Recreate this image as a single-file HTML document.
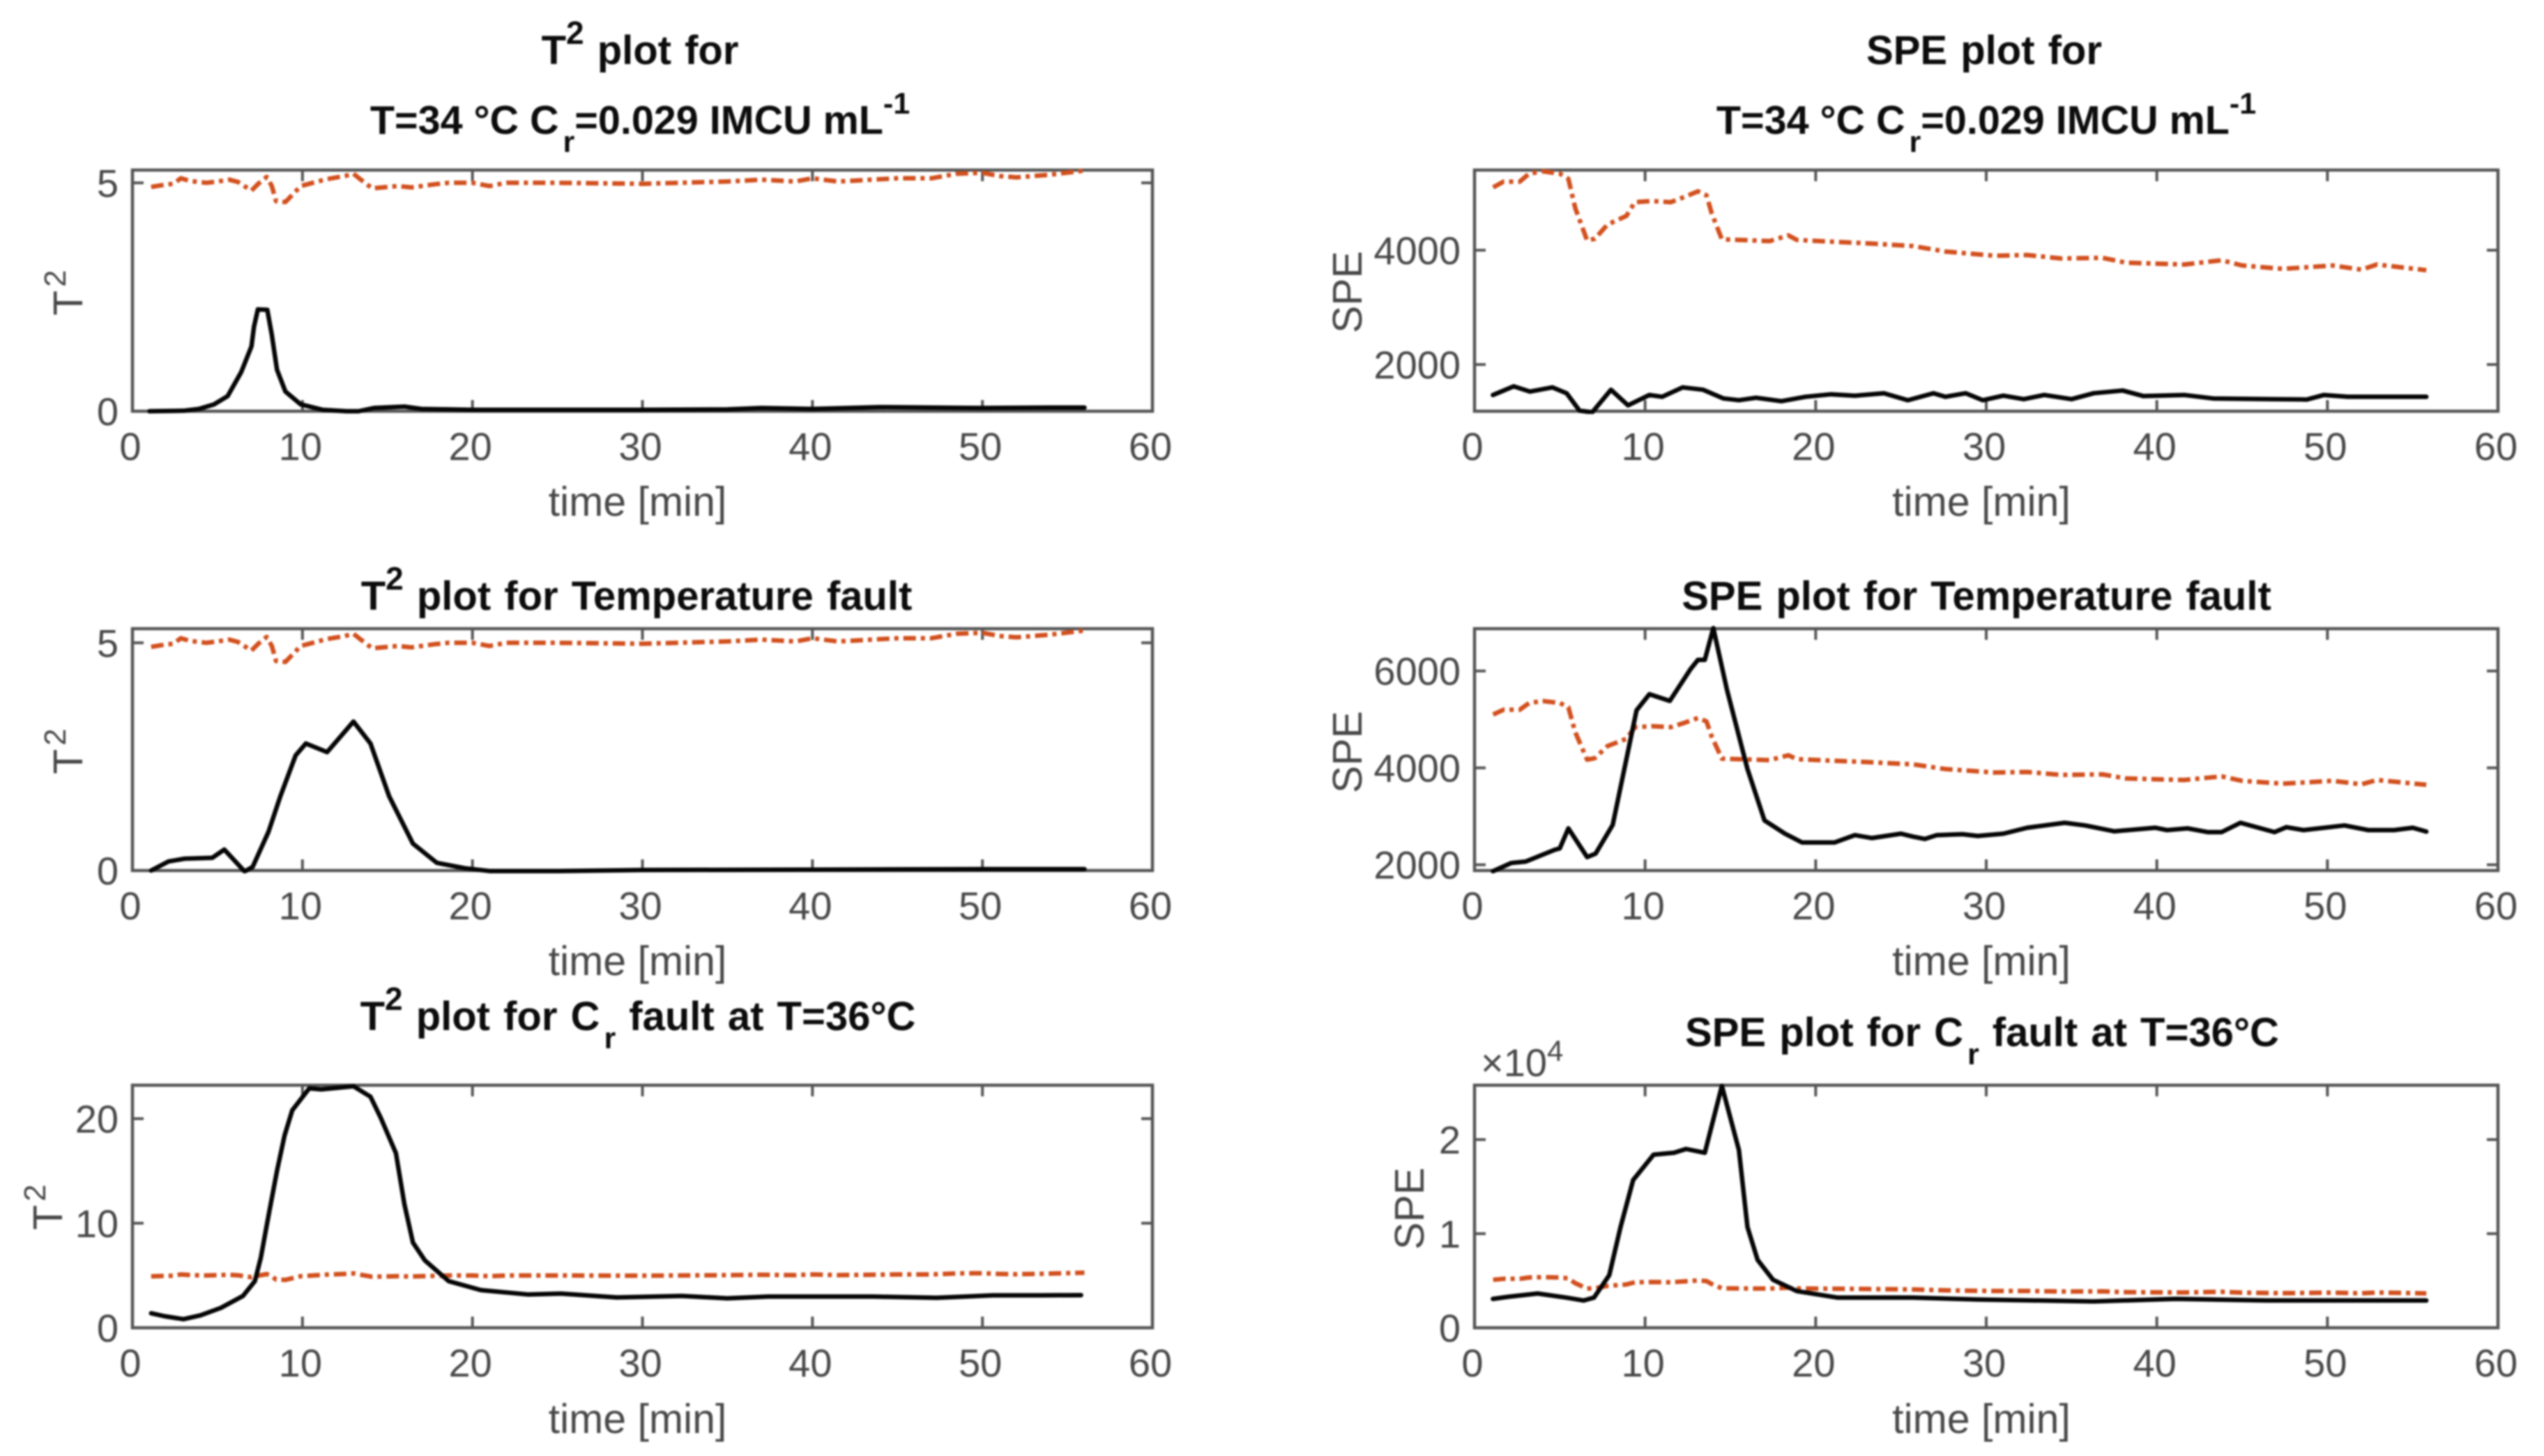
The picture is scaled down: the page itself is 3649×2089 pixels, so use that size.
<!DOCTYPE html>
<html lang="en">
<head>
<meta charset="utf-8">
<title>T2 and SPE fault plots</title>
<style>
html,body{margin:0;padding:0;background:#fff;width:3649px;height:2089px;overflow:hidden}
svg{display:block;filter:blur(1.2px)}
text{font-family:"Liberation Sans",Arial,sans-serif}
.title{font-weight:bold;font-size:58px;word-spacing:3px;fill:#0c0c0c;text-anchor:middle}
.title.compact{font-size:57.5px;word-spacing:0}
.label{font-size:59px;fill:#484848}
.tick{font-size:56px;fill:#484848}
</style>
</head>
<body>
<svg id="chart" xmlns="http://www.w3.org/2000/svg" width="3649" height="2089" viewBox="0 0 3649 2089">
  <rect x="0" y="0" width="3649" height="2089" fill="#fff"/>

  <text class="title" x="918" y="92">T<tspan font-size="46" dy="-29">2</tspan><tspan dy="29"> plot for</tspan></text>
  <text class="title compact" x="918" y="192">T=34 °C C<tspan font-size="43" dy="26" dx="6">r</tspan><tspan dy="-26">=0.029 IMCU mL</tspan><tspan font-size="43" dy="-29">-1</tspan></text>
  <text class="title" x="2846" y="92">SPE plot for</text>
  <text class="title compact" x="2849" y="192">T=34 °C C<tspan font-size="43" dy="26" dx="6">r</tspan><tspan dy="-26">=0.029 IMCU mL</tspan><tspan font-size="43" dy="-29">-1</tspan></text>

  <text class="title" x="913" y="875">T<tspan font-size="46" dy="-29">2</tspan><tspan dy="29"> plot for Temperature fault</tspan></text>
  <text class="title" x="2835" y="875">SPE plot for Temperature fault</text>

  <text class="title" x="915" y="1478">T<tspan font-size="46" dy="-29">2</tspan><tspan dy="29"> plot for C</tspan><tspan font-size="43" dy="26" dx="6">r</tspan><tspan dy="-26"> fault at T=36°C</tspan></text>
  <text class="title" x="2843" y="1501">SPE plot for C<tspan font-size="43" dy="26" dx="6">r</tspan><tspan dy="-26"> fault at T=36°C</tspan></text>

  <text class="label" transform="translate(118,420) rotate(-90)" text-anchor="middle">T<tspan font-size="44" dy="-24" dx="5">2</tspan></text>
  <text class="label" transform="translate(118,1078) rotate(-90)" text-anchor="middle">T<tspan font-size="44" dy="-24" dx="5">2</tspan></text>
  <text class="label" transform="translate(89,1732) rotate(-90)" text-anchor="middle">T<tspan font-size="44" dy="-24" dx="5">2</tspan></text>
  <text class="label" transform="translate(1953,419) rotate(-90)" text-anchor="middle">SPE</text>
  <text class="label" transform="translate(1953,1079) rotate(-90)" text-anchor="middle">SPE</text>
  <text class="label" transform="translate(2042,1734) rotate(-90)" text-anchor="middle">SPE</text>

  <text class="tick" x="2124" y="1544">×10<tspan font-size="42" dy="-22">4</tspan></text>
</svg>

<script>
// Shared x axis tick values (minutes)
const xTickValues = [0, 10, 20, 30, 40, 50, 60];

// T2 control limit (same in all three T2 panels)
const t2LimitTime = [1.1,1.9,2.4,2.85,3.4,4.35,5,5.7,6.2,7,7.4,7.9,8.2,8.45,9,9.9,10.6,11.4,12.5,13,13.4,14.1,15.6,16.4,17.8,18.6,20,21,22,25,30,35,37,39,40,41.5,45,47,48.5,50,51,52,54,56];
const t2LimitValues = [4.91,4.96,4.98,5.1,5.04,5.0,5.03,5.07,5.02,4.83,4.98,5.13,4.93,4.6,4.58,4.93,5.0,5.08,5.15,5.2,5.08,4.88,4.93,4.9,4.97,5.0,5.0,4.93,5.0,5.0,4.98,5.03,5.07,5.03,5.1,5.03,5.1,5.1,5.2,5.22,5.15,5.12,5.18,5.27];

// SPE control limit (same in all three SPE panels)
const speLimitTime = [1.09,1.7,2.65,3.2,4,5,5.5,5.9,6.6,7.05,7.8,8.9,9.4,10.4,11.5,12.3,13.1,13.6,13.9,14.5,15.5,17.3,18.4,18.9,20.4,23,25.7,27.6,30.5,32.4,34.4,36.8,38.2,41.6,43.8,45,47.4,50.3,52,52.9,55.8];
const speLimitValues = [5100,5200,5200,5340,5380,5340,5250,4740,4170,4200,4450,4600,4840,4860,4840,4930,5030,4960,4650,4190,4180,4160,4260,4180,4157,4120,4073,3976,3903,3915,3855,3867,3782,3750,3824,3733,3673,3733,3660,3750,3650];

// Panel 1: T2 at normal operating conditions
const t2NormalTime = [1,3,3.9,4.8,5.6,6.4,7,7.15,7.38,7.93,8.2,8.5,9,9.9,11.2,12.6,13.3,14.2,16,17,20,25,30,35,37,40,44,50,54,56];
const t2NormalValues = [0,0.01,0.05,0.15,0.33,0.86,1.42,1.85,2.23,2.22,1.67,0.91,0.43,0.15,0.03,0,0,0.07,0.1,0.05,0.03,0.03,0.03,0.04,0.07,0.05,0.09,0.07,0.08,0.08];

// Panel 2: SPE at normal operating conditions
const speNormalTime = [1.08,2.3,3.25,4.56,5.4,6.15,6.9,8,9,10.25,11,12.2,13.4,14.6,15.5,16.5,18,19.4,20.9,22.3,24,25.4,26.9,27.6,28.8,29.8,31,32.2,33.4,35,36.3,38,39.2,41.6,43.3,46.9,48.8,49.8,51.2,55.8];
const speNormalValues = [1467,1618,1527,1600,1497,1194,1164,1558,1285,1467,1436,1600,1558,1406,1376,1418,1358,1436,1479,1455,1497,1376,1497,1436,1497,1376,1455,1394,1467,1394,1497,1545,1449,1467,1406,1394,1388,1467,1436,1436];

// Panel 3: T2 for the temperature fault
const t2TempTime = [1.1,2.13,3.07,4.7,5.4,6.6,7.07,8,8.7,9.6,10.2,11.45,13,14,15.1,16.5,17.9,19.55,21,25,30,40,50,56];
const t2TempValues = [0,0.2,0.26,0.28,0.46,-0.02,0.08,0.85,1.63,2.53,2.79,2.6,3.27,2.79,1.63,0.59,0.17,0.05,-0.01,-0.01,0.01,0.02,0.03,0.03];

// Panel 4: SPE for the temperature fault
const speTempTime = [1.08,2.15,3,4.7,5,5.5,6.6,7.1,8.1,9.5,10.25,11.45,12.66,13.1,13.5,14,14.8,16,17,18.2,19.2,21.1,22.3,23.3,25,25.7,26.4,27.1,28.6,29.5,31,32.4,34.6,35.8,37.5,39.9,40.6,41.8,43,43.8,44.9,46.9,47.6,48.6,51,52.4,53.9,55,55.8];
const speTempValues = [1867,2036,2067,2309,2339,2752,2158,2230,2824,5188,5521,5382,6036,6230,6230,6885,5612,3976,2915,2642,2460,2460,2612,2552,2642,2582,2533,2612,2630,2594,2642,2764,2867,2812,2691,2764,2715,2752,2673,2673,2867,2673,2776,2715,2812,2715,2715,2764,2685];

// Panel 5: T2 for the Cr fault
const t2CrTime = [1.1,1.9,3,4,5.2,6.5,7.2,7.55,8,8.5,8.95,9.4,10.4,11.1,13,14,14.6,15.5,16,16.5,17.2,18.6,20.5,23.3,25.2,28.5,32.3,35,37.4,43.6,47.3,50.6,53.4,55.8];
const t2CrValues = [1.39,1.1,0.82,1.19,1.9,3.04,4.46,6.7,10.7,15,18.4,20.8,22.9,22.8,23.1,22.1,20.1,16.7,11.8,8.15,6.45,4.46,3.6,3.18,3.27,2.9,3.04,2.81,2.98,2.98,2.87,3.1,3.1,3.12];

// Panel 6: SPE for the Cr fault
const speCrTime = [1.08,2,3.7,5.4,6.4,7,7.9,8.56,9.3,10.5,11.7,12.4,13.5,14.5,15.5,16,16.6,17.5,18.9,21.3,25.7,29.5,36.3,41.1,46.4,55.8];
const speCrValues = [3070,3300,3640,3200,2900,3200,5600,10700,15700,18400,18600,19000,18600,25700,18900,10700,7200,5100,3900,3200,3200,3000,2800,3070,2900,2900];

// Y tick values and printed labels for each panel
const t2NormalYTicks = [0, 5];
const t2NormalYLabels = ['0', '5'];
const speNormalYTicks = [2000, 4000];
const speNormalYLabels = ['2000', '4000'];
const t2TempYTicks = [0, 5];
const t2TempYLabels = ['0', '5'];
const speTempYTicks = [2000, 4000, 6000];
const speTempYLabels = ['2000', '4000', '6000'];
const t2CrYTicks = [0, 10, 20];
const t2CrYLabels = ['0', '10', '20'];
const speCrYTicks = [0, 10000, 20000];
const speCrYLabels = ['0', '1', '2'];

const NS = 'http://www.w3.org/2000/svg';
const svg = document.getElementById('chart');
const AXIS_COLOR = '#555';
const TICK_LENGTH = 16;
const X_MAX = 60;

function make(tag, attrs, parent) {
  const el = document.createElementNS(NS, tag);
  for (const k in attrs) el.setAttribute(k, attrs[k]);
  parent.appendChild(el);
  return el;
}

function drawPanel(p) {
  const sx = function (v) { return p.left + (v / X_MAX) * (p.right - p.left); };
  const sy = function (v) { return p.bottom - ((v - p.yMin) / (p.yMax - p.yMin)) * (p.bottom - p.top); };

  const g = make('g', {}, svg);
  
  

  const clip = make('clipPath', { id: p.id + '-clip' }, g);
  make('rect', { x: p.left - 3, y: p.top - 4, width: p.right - p.left + 6, height: p.bottom - p.top + 8 }, clip);

  const box = make('rect', { x: p.left, y: p.top, width: p.right - p.left, height: p.bottom - p.top, fill: '#fff', stroke: AXIS_COLOR, 'stroke-width': 4.5 }, g);
  
  

  xTickValues.forEach(function (v) {
    const x = sx(v);
    if (v !== 0 && v !== X_MAX) {
      const t1 = make('line', { x1: x, x2: x, y1: p.bottom, y2: p.bottom - TICK_LENGTH, stroke: AXIS_COLOR, 'stroke-width': 4 }, g);
      
      
      const t2 = make('line', { x1: x, x2: x, y1: p.top, y2: p.top + TICK_LENGTH, stroke: AXIS_COLOR, 'stroke-width': 4 }, g);
      
      
    }
    const label = make('text', { class: 'tick', x: x - 3, y: p.bottom + 70, 'text-anchor': 'middle' }, g);
    
    
    label.textContent = String(v);
  });

  p.yTicks.forEach(function (v, i) {
    const y = sy(v);
    const t1 = make('line', { x1: p.left, x2: p.left + TICK_LENGTH, y1: y, y2: y, stroke: AXIS_COLOR, 'stroke-width': 4 }, g);
    
    
    const t2 = make('line', { x1: p.right, x2: p.right - TICK_LENGTH, y1: y, y2: y, stroke: AXIS_COLOR, 'stroke-width': 4 }, g);
    
    
    const label = make('text', { class: 'tick', x: p.left - 20, y: y + 20, 'text-anchor': 'end' }, g);
    
    
    label.textContent = p.yLabels[i];
  });

  const xTitle = make('text', { class: 'label', x: p.left + (p.right - p.left) / 2 - 7, y: p.xTitleY, 'text-anchor': 'middle' }, g);
  
  
  xTitle.textContent = 'time [min]';

  const toPath = function (ts, vs) {
    return ts.map(function (t, i) { return (i ? 'L' : 'M') + sx(t).toFixed(1) + ' ' + sy(vs[i]).toFixed(1); }).join(' ');
  };

  const limit = make('path', {
    d: toPath(p.limitT, p.limitV), fill: 'none', stroke: '#d2501e', 'stroke-width': 6.5,
    'stroke-dasharray': '18 7 6 7', 'stroke-linejoin': 'round', 'clip-path': 'url(#' + p.id + '-clip)'
  }, g);
  
  

  const stat = make('path', {
    d: toPath(p.statT, p.statV), fill: 'none', stroke: '#050505', 'stroke-width': 6.5,
    'stroke-linejoin': 'round', 'stroke-linecap': 'round', 'clip-path': 'url(#' + p.id + '-clip)'
  }, g);
  
  
}

const LEFT_COL = { left: 190, right: 1653 };
const RIGHT_COL = { left: 2115, right: 3583 };
const ROW1 = { top: 244, bottom: 590, xTitleY: 740 };
const ROW2 = { top: 902, bottom: 1249, xTitleY: 1399 };
const ROW3 = { top: 1557, bottom: 1905, xTitleY: 2056 };

drawPanel(Object.assign({ id: 't2-normal', yMin: 0, yMax: 5.28, yTicks: t2NormalYTicks, yLabels: t2NormalYLabels, limitT: t2LimitTime, limitV: t2LimitValues, statT: t2NormalTime, statV: t2NormalValues }, LEFT_COL, ROW1));
drawPanel(Object.assign({ id: 'spe-normal', yMin: 1183, yMax: 5402, yTicks: speNormalYTicks, yLabels: speNormalYLabels, limitT: speLimitTime, limitV: speLimitValues, statT: speNormalTime, statV: speNormalValues }, RIGHT_COL, ROW1));
drawPanel(Object.assign({ id: 't2-temperature', yMin: 0, yMax: 5.31, yTicks: t2TempYTicks, yLabels: t2TempYLabels, limitT: t2LimitTime, limitV: t2LimitValues, statT: t2TempTime, statV: t2TempValues }, LEFT_COL, ROW2));
drawPanel(Object.assign({ id: 'spe-temperature', yMin: 1881, yMax: 6873, yTicks: speTempYTicks, yLabels: speTempYLabels, limitT: speLimitTime, limitV: speLimitValues, statT: speTempTime, statV: speTempValues }, RIGHT_COL, ROW2));
drawPanel(Object.assign({ id: 't2-cr', yMin: 0, yMax: 23.2, yTicks: t2CrYTicks, yLabels: t2CrYLabels, limitT: t2LimitTime, limitV: t2LimitValues, statT: t2CrTime, statV: t2CrValues }, LEFT_COL, ROW3));
drawPanel(Object.assign({ id: 'spe-cr', yMin: 0, yMax: 25780, yTicks: speCrYTicks, yLabels: speCrYLabels, limitT: speLimitTime, limitV: speLimitValues, statT: speCrTime, statV: speCrValues }, RIGHT_COL, ROW3));
</script>
</body>
</html>
